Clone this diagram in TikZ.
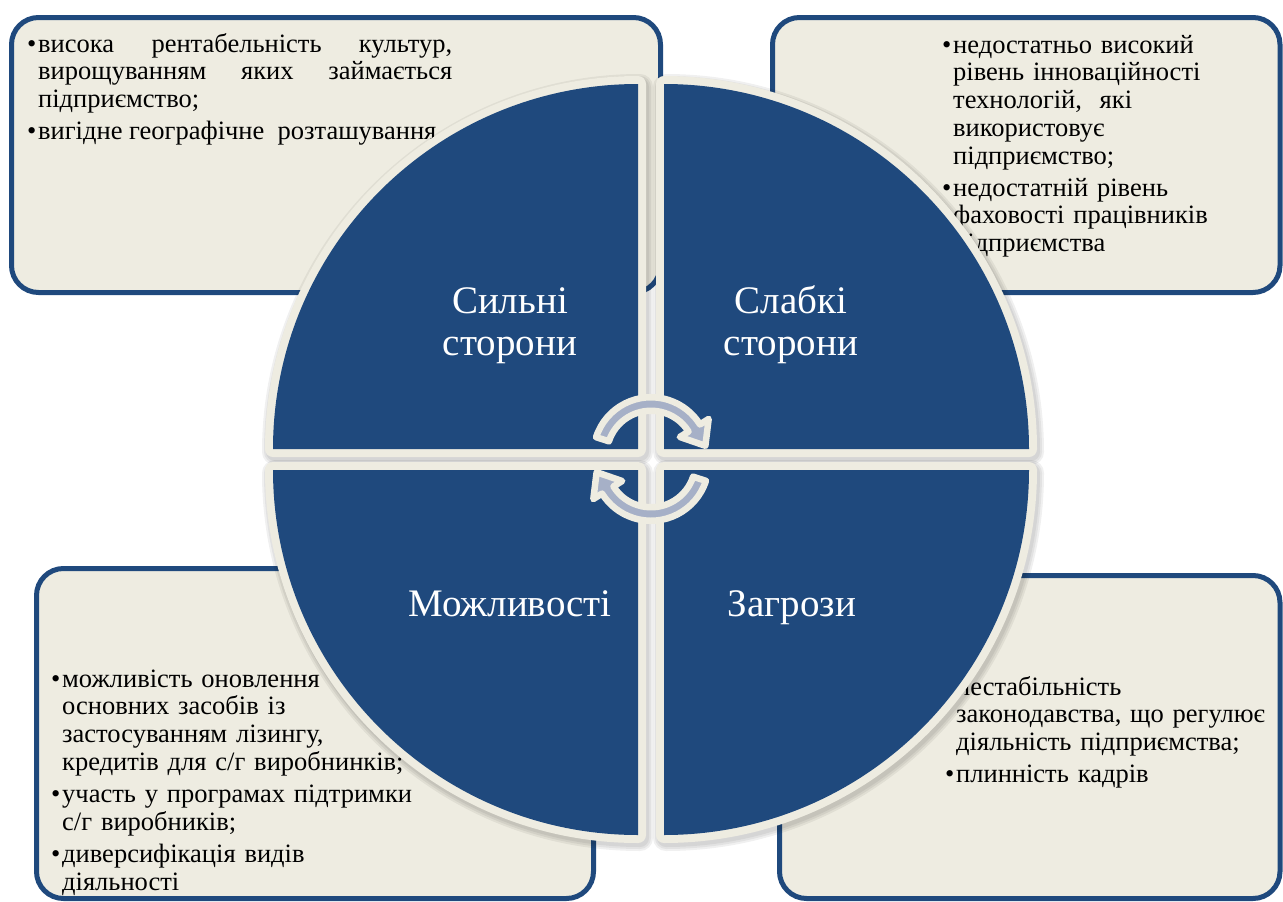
\documentclass[tikz,border=0pt]{standalone}
\usepackage{fontspec}
\setmainfont{Liberation Serif}
\usetikzlibrary{calc}

\definecolor{swotnavy}{RGB}{31,73,125}
\definecolor{swotcream}{RGB}{238,236,225}
\definecolor{swotstripe}{RGB}{166,176,199}

% one bulleted paragraph with a hanging indent
\newcommand{\swotitem}[1]{\hangindent=11pt\hangafter=1\noindent\makebox[11pt][l]{•}#1\par}
% quarter disc: corner point, start angle
\newcommand{\quadpath}[3]{(#1,#2) -- ++(#3:365) arc[start angle=#3, end angle=#3+90, radius=365] -- cycle}

\begin{document}
\begin{tikzpicture}[x=1pt,y=-1pt,
  infobox/.style={draw=swotnavy, fill=swotcream, line width=5pt, rounded corners=27pt},
  bodytext/.style={anchor=north west, inner sep=0pt, align=left,
    font=\fontsize{26.5pt}{27.7pt}\selectfont,
    execute at begin node={\setlength{\parskip}{4.5pt}\hyphenpenalty=10000 \tolerance=10000 \emergencystretch=0pt}},
  quadrim/.style={draw=swotcream, line width=16pt, line join=round},
  quadfill/.style={fill=swotnavy},
  quadshadow/.style={draw=black, draw opacity=0.06, line join=round},
  titletext/.style={text=white, inner sep=0pt, align=center, font=\fontsize{39pt}{42pt}\selectfont},
  arrowband/.style={fill=swotstripe, draw=swotcream, line width=6.5pt, line join=round}
]
\useasboundingbox (0,0) rectangle (1283,902);

% ---------- text boxes ----------
\draw[infobox] (11.5,17.5) rectangle (660.5,292.5);
\draw[infobox] (772.5,17.5) rectangle (1280,292.5);
\draw[infobox] (36.5,568.5) rectangle (593.5,898.5);
\draw[infobox] (779.5,575.5) rectangle (1280,898.5);

\node[bodytext, text width=425pt, align=justify] (strengths) at (27,31) {%
  \swotitem{\rule{0pt}{21pt}висока рентабельність культур,\linebreak вирощуванням яких займається\linebreak підприємство;}
  \swotitem{вигідне географічне\ \ розташування}};

\node[bodytext, text width=330pt] (weaknesses) at (942,32) {%
  \swotitem{\rule{0pt}{21pt}недостатньо високий\newline рівень інноваційності\newline технологій,\ \ які\newline використовує\newline підприємство;}
  \swotitem{недостатній рівень\newline фаховості працівників\newline підприємства}};

\node[bodytext, text width=420pt] (opportunities) at (51,666) {%
  \swotitem{\rule{0pt}{21pt}можливість оновлення\newline основних засобів із\newline застосуванням лізингу,\newline кредитів для с/г виробнинків;}
  \swotitem{участь у програмах підтримки\newline с/г виробників;}
  \swotitem{диверсифікація видів\newline діяльності}};

\node[bodytext, text width=330pt] (threats) at (945,674) {%
  \swotitem{\rule{0pt}{21pt}нестабільність\newline законодавства, що регулює\newline діяльність підприємства;}
  \swotitem{плинність кадрів}};

% ---------- four quarter discs ----------
\foreach \cx/\cy/\a in {638/449/180, 664/449/270, 664/470/0, 638/470/90}{
  \begin{scope}[shift={(2,3)}]
    \draw[quadshadow, line width=26pt] \quadpath{\cx}{\cy}{\a};
    \draw[quadshadow, line width=22pt] \quadpath{\cx}{\cy}{\a};
    \draw[quadshadow, line width=18pt] \quadpath{\cx}{\cy}{\a};
  \end{scope}
  \draw[quadrim] \quadpath{\cx}{\cy}{\a};
  \fill[quadfill] \quadpath{\cx}{\cy}{\a};
}

% ---------- quadrant titles ----------
\node[titletext, anchor=north] (tstrong) at (510,283) {\rule{0pt}{30pt}Сильні\\сторони};
\node[titletext, anchor=north] (tweak) at (791,283) {\rule{0pt}{30pt}Слабкі\\сторони};
\node[titletext, anchor=base] (topp) at (510,616) {Можливості};
\node[titletext, anchor=base] (tthreat) at (792,616) {Загрози};

% ---------- circular arrows in the centre ----------
\coordinate (ca) at (651,455);
\coordinate (cb) at (651,463);
\filldraw[arrowband]
  ($(ca)+(198:57.75)$) arc[start angle=198, end angle=328, radius=57.75]
  -- ($(ca)+(328:68)$) -- ($(ca)+(328:51)+(58:21)$) -- ($(ca)+(328:34)$)
  -- ($(ca)+(328:44.25)$) arc[start angle=328, end angle=198, radius=44.25] -- cycle;
\filldraw[arrowband]
  ($(cb)+(18:57.75)$) arc[start angle=18, end angle=148, radius=57.75]
  -- ($(cb)+(148:68)$) -- ($(cb)+(148:51)+(238:21)$) -- ($(cb)+(148:34)$)
  -- ($(cb)+(148:44.25)$) arc[start angle=148, end angle=18, radius=44.25] -- cycle;

\end{tikzpicture}
\end{document}
